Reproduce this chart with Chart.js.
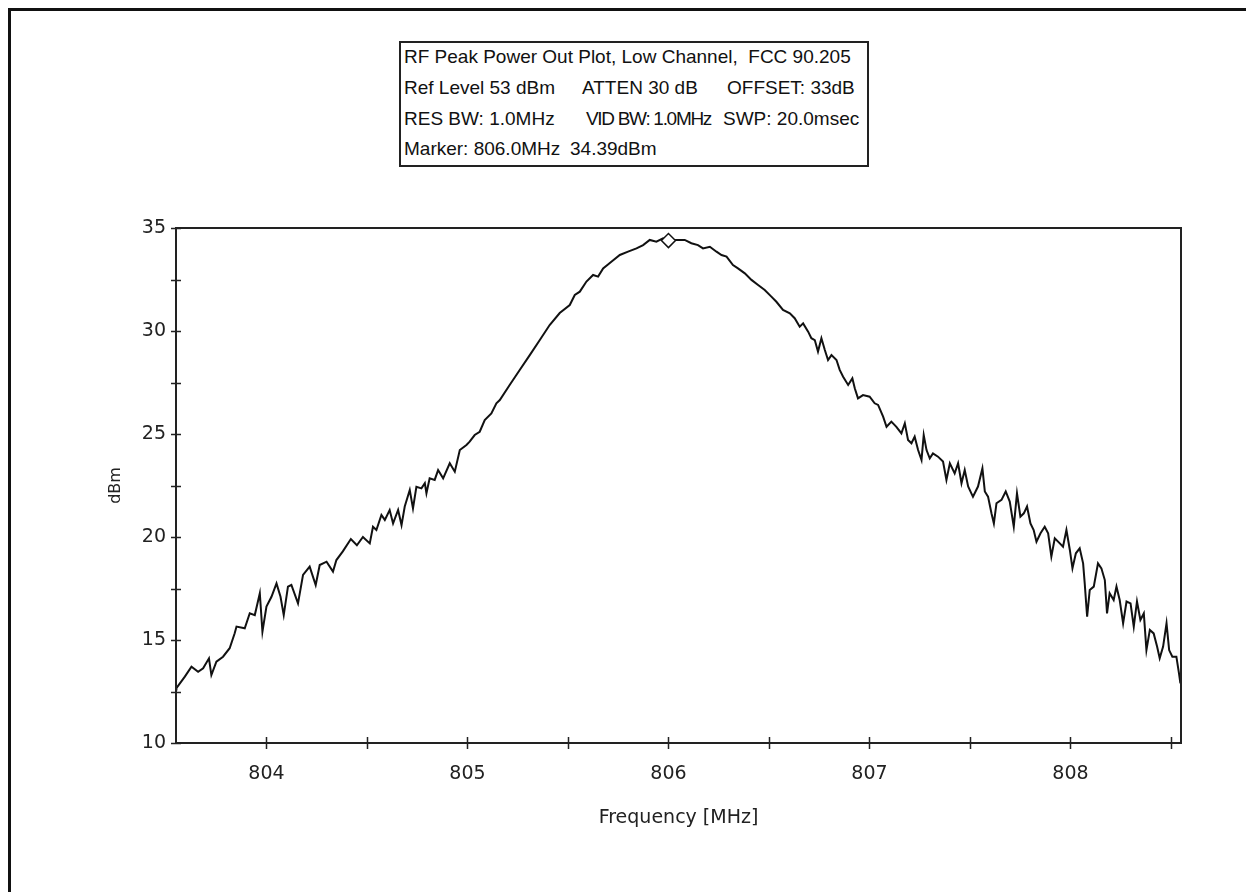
<!DOCTYPE html>
<html>
<head>
<meta charset="utf-8">
<script src="https://cdn.jsdelivr.net/npm/chart.js@4/dist/chart.umd.min.js"></script>
<style>
  body { margin: 0; background: #fff; }
  #wrap { position: relative; width: 1246px; height: 892px; overflow: hidden; }
  #frame { position: absolute; left: 8px; top: 8px; width: 1240px; height: 900px;
           border-top: 3px solid #111; border-left: 3px solid #111; }
  #info { position: absolute; left: 399px; top: 41px; width: 466px; height: 122px;
          border: 2px solid #222; background: #fff; }
  .t { position: absolute; font-family: "Liberation Sans", Arial, sans-serif; font-size: 19px;
       line-height: 19px; color: #111; white-space: pre; }
  canvas { position: absolute; left: 0; top: 0; }
</style>
</head>
<body>
<div id="wrap">
  <div id="frame"></div>
  <canvas id="spectrum" width="1246" height="892"></canvas>
  <div id="info">
    <div class="t" style="left:3px;top:4px">RF Peak Power Out Plot, Low Channel,  FCC 90.205</div>
    <div class="t" style="left:3px;top:35px">Ref Level 53 dBm</div>
    <div class="t" style="left:181px;top:35px">ATTEN 30 dB</div>
    <div class="t" style="left:326px;top:35px">OFFSET: 33dB</div>
    <div class="t" style="left:3px;top:66px">RES BW: 1.0MHz</div>
    <div class="t" style="left:185px;top:66px;letter-spacing:-1.3px">VID BW: 1.0MHz</div>
    <div class="t" style="left:322px;top:66px">SWP: 20.0msec</div>
    <div class="t" style="left:3px;top:96px">Marker: 806.0MHz</div>
    <div class="t" style="left:169px;top:96px">34.39dBm</div>
  </div>
</div>
<script>
// trace (MHz / dBm)
const freqMHz = [
  803.550, 803.552, 803.594, 803.627, 803.660, 803.685, 803.714, 803.726, 803.751, 803.784,
  803.817, 803.842, 803.851, 803.892, 803.917, 803.942, 803.967, 803.980, 804.000, 804.025,
  804.050, 804.070, 804.086, 804.107, 804.124, 804.157, 804.182, 804.215, 804.245, 804.265,
  804.299, 804.331, 804.348, 804.380, 804.420, 804.450, 804.480, 804.514, 804.530, 804.547,
  804.572, 804.589, 804.613, 804.630, 804.655, 804.672, 804.688, 804.713, 804.729, 804.746,
  804.771, 804.788, 804.796, 804.812, 804.837, 804.854, 804.879, 804.912, 804.937, 804.962,
  804.995, 805.011, 805.036, 805.061, 805.086, 805.119, 805.144, 805.161, 805.210, 805.260,
  805.310, 805.360, 805.409, 805.459, 805.509, 805.534, 805.559, 805.592, 805.625, 805.650,
  805.675, 805.716, 805.758, 805.799, 805.841, 805.874, 805.907, 805.940, 805.973, 805.998,
  806.040, 806.081, 806.114, 806.147, 806.172, 806.206, 806.239, 806.264, 806.289, 806.321,
  806.346, 806.380, 806.413, 806.446, 806.479, 806.512, 806.537, 806.570, 806.604, 806.628,
  806.653, 806.670, 806.695, 806.711, 806.728, 806.744, 806.761, 806.778, 806.794, 806.811,
  806.836, 806.852, 806.869, 806.894, 806.915, 806.927, 806.943, 806.968, 807.001, 807.026,
  807.043, 807.068, 807.085, 807.109, 807.134, 807.159, 807.176, 807.192, 807.209, 807.225,
  807.242, 807.259, 807.270, 807.284, 807.300, 807.316, 807.341, 807.366, 807.383, 807.400,
  807.424, 807.441, 807.458, 807.474, 807.491, 807.507, 807.515, 807.540, 807.562, 807.574,
  807.590, 807.607, 807.619, 807.632, 807.657, 807.678, 807.698, 807.718, 807.734, 807.751,
  807.768, 807.784, 807.801, 807.817, 807.831, 807.851, 807.872, 807.889, 807.905, 807.922,
  807.947, 807.963, 807.980, 807.997, 808.010, 808.027, 808.046, 808.063, 808.071, 808.083,
  808.096, 808.116, 808.137, 808.154, 808.171, 808.182, 808.195, 808.215, 808.229, 808.245,
  808.262, 808.279, 808.299, 808.315, 808.331, 808.348, 808.365, 808.378, 808.395, 808.414,
  808.431, 808.444, 808.461, 808.478, 808.491, 808.507, 808.527, 808.540, 808.547
]
const levelDbm = [
  12.60, 12.66, 13.22, 13.70, 13.46, 13.63, 14.11, 13.30, 13.95, 14.19,
  14.60, 15.33, 15.65, 15.57, 16.30, 16.21, 17.27, 15.40, 16.62, 17.10,
  17.75, 17.10, 16.21, 17.59, 17.67, 16.78, 18.16, 18.56, 17.67, 18.64,
  18.80, 18.32, 18.88, 19.30, 19.90, 19.60, 20.00, 19.69, 20.50, 20.34,
  21.07, 20.83, 21.31, 20.66, 21.31, 20.58, 21.48, 22.28, 21.39, 22.44,
  22.36, 22.61, 22.12, 22.85, 22.77, 23.25, 22.85, 23.58, 23.17, 24.22,
  24.47, 24.63, 24.95, 25.11, 25.68, 26.00, 26.49, 26.65, 27.38, 28.11,
  28.83, 29.56, 30.29, 30.87, 31.26, 31.75, 31.91, 32.40, 32.72, 32.64,
  33.04, 33.36, 33.69, 33.85, 34.01, 34.17, 34.42, 34.34, 34.50, 34.39,
  34.42, 34.42, 34.26, 34.17, 34.01, 34.09, 33.85, 33.69, 33.61, 33.20,
  33.04, 32.80, 32.48, 32.23, 31.99, 31.67, 31.42, 31.02, 30.86, 30.62,
  30.21, 30.37, 29.97, 29.65, 29.56, 29.00, 29.65, 29.08, 28.59, 28.83,
  28.59, 28.11, 27.78, 27.38, 27.70, 27.22, 26.73, 26.89, 26.81, 26.49,
  26.41, 25.84, 25.35, 25.60, 25.35, 25.03, 25.52, 24.71, 24.55, 24.87,
  24.22, 23.74, 24.95, 24.22, 23.82, 24.06, 23.90, 23.66, 22.77, 23.58,
  23.09, 23.58, 22.61, 23.25, 22.45, 22.12, 21.96, 22.45, 23.33, 22.21,
  21.96, 21.15, 20.66, 21.64, 21.80, 22.21, 21.72, 20.50, 22.12, 20.99,
  21.15, 21.48, 20.66, 20.34, 19.77, 20.18, 20.50, 20.18, 19.05, 19.94,
  19.69, 19.53, 20.34, 19.37, 18.48, 19.21, 19.45, 18.72, 17.75, 16.13,
  17.43, 17.59, 18.72, 18.48, 17.91, 16.29, 17.27, 16.94, 17.59, 16.94,
  15.81, 16.87, 16.78, 15.65, 16.87, 15.97, 16.29, 14.51, 15.49, 15.32,
  14.68, 14.11, 14.68, 15.81, 14.51, 14.19, 14.19, 13.38, 12.90
]

const markerFreq = [806.0]
const markerLevel = [34.39]

const xTickValues = [804, 804.5, 805, 805.5, 806, 806.5, 807, 807.5, 808, 808.5]
const yTickValues = [10, 12.5, 15, 17.5, 20, 22.5, 25, 27.5, 30, 32.5, 35]

const xMin = 803.55, xMax = 808.55
const yMin = 10, yMax = 35

const tickFont = { family: 'DejaVu Sans', size: 19 }

// frame round the plot + tick marks crossing the axes
const frameTicks = {
    id: 'frameTicks',
    afterDatasetsDraw(chart) {
        const { ctx, chartArea: a, scales } = chart
        ctx.save()
        ctx.strokeStyle = '#222'
        ctx.lineWidth = 2
        ctx.strokeRect(a.left, a.top, a.right - a.left, a.bottom - a.top)
        ctx.lineWidth = 1.5
        ctx.beginPath()
        for (const v of xTickValues) {
            const px = Math.round(scales.x.getPixelForValue(v)) + 0.5
            ctx.moveTo(px, a.bottom - 6)
            ctx.lineTo(px, a.bottom + 6)
        }
        for (const v of yTickValues) {
            const py = Math.round(scales.y.getPixelForValue(v)) + 0.5
            ctx.moveTo(a.left - 5, py)
            ctx.lineTo(a.left + 5, py)
        }
        ctx.stroke()
        ctx.restore()
    }
}

new Chart(document.getElementById('spectrum'), {
    type: 'scatter',
    data: {
        datasets: [{
            label: 'Marker',
            data: markerFreq.map((f, i) => ({ x: f, y: markerLevel[i] })),
            pointStyle: 'rectRot',
            pointRadius: 7,
            pointBackgroundColor: '#fff',
            pointBorderColor: '#111',
            pointBorderWidth: 1.5,
            showLine: false,
            order: 0
        }, {
            label: 'RF Peak Power',
            data: freqMHz.map((f, i) => ({ x: f, y: levelDbm[i] })),
            showLine: true,
            borderColor: '#111',
            borderWidth: 2,
            pointRadius: 0,
            tension: 0,
            order: 1
        }]
    },
    options: {
        responsive: false,
        animation: false,
        layout: { padding: { left: 102, top: 228, right: 65, bottom: 59 } },
        plugins: { legend: { display: false }, tooltip: { enabled: false } },
        scales: {
            x: {
                type: 'linear',
                min: xMin,
                max: xMax,
                afterBuildTicks: (s) => { s.ticks = xTickValues.map(v => ({ value: v })) },
                afterFit: (s) => { s.height = 90 },
                grid: { display: false, drawTicks: false },
                border: { display: false },
                ticks: {
                    padding: 20,
                    color: '#222',
                    font: tickFont,
                    maxRotation: 0,
                    autoSkip: false,
                    callback: (v) => (Number.isInteger(v) ? String(v) : '')
                },
                title: {
                    display: true,
                    text: 'Frequency [MHz]',
                    color: '#222',
                    font: { family: 'DejaVu Sans', size: 19 }
                }
            },
            y: {
                min: yMin,
                max: yMax,
                afterBuildTicks: (s) => { s.ticks = yTickValues.map(v => ({ value: v })) },
                afterFit: (s) => { s.width = 74 },
                grid: { display: false, drawTicks: false },
                border: { display: false },
                ticks: {
                    padding: 10,
                    color: '#222',
                    font: tickFont,
                    autoSkip: false,
                    callback: (v) => (v % 5 === 0 ? String(v) : '')
                },
                title: {
                    display: true,
                    text: 'dBm',
                    color: '#222',
                    font: { family: 'DejaVu Sans', size: 16 }
                }
            }
        }
    },
    plugins: [frameTicks]
})
</script>
</body>
</html>
